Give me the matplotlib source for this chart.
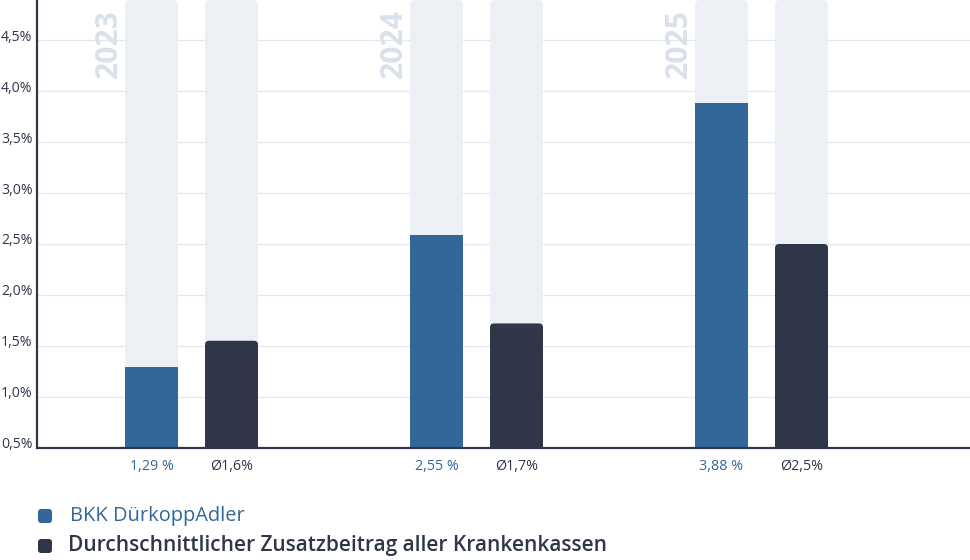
import matplotlib
matplotlib.use("Agg")
import matplotlib.pyplot as plt
from matplotlib.patches import FancyBboxPatch
from matplotlib.transforms import IdentityTransform, blended_transform_factory, offset_copy

# ---- data ----
years = ["2023", "2024", "2025"]
bkk_values = [1.29, 2.59, 3.88]          # bar heights (%)
avg_values = [1.55, 1.72, 2.50]          # bar heights (%)
bkk_labels = ["1,29 %", "2,55 %", "3,88 %"]
avg_labels = ["Ø1,6%", "Ø1,7%", "Ø2,5%"]
yticks = [0.5, 1.0, 1.5, 2.0, 2.5, 3.0, 3.5, 4.0, 4.5]
ytick_labels = ["0,5%", "1,0%", "1,5%", "2,0%", "2,5%", "3,0%", "3,5%", "4,0%", "4,5%"]
legend_labels = ["BKK DürkoppAdler", "Durchschnittlicher Zusatzbeitrag aller Krankenkassen"]

# ---- style ----
BLUE = "#336799"
DARK = "#2e3648"
BG_BAR = "#ecf0f5"
GRID = "#e2e6ee"
YEAR_COL = "#dae1eb"
FONT = ["Open Sans", "DejaVu Sans"]
plt.rcParams["font.family"] = FONT

W, H, DPI = 970, 560, 72
fig = plt.figure(figsize=(W / DPI, H / DPI), dpi=DPI)
ax_left, ax_right, ax_top, ax_bottom = 37, 970, 0, 447.7
ax = fig.add_axes([ax_left / W, (H - ax_bottom) / H, (ax_right - ax_left) / W, (ax_bottom - ax_top) / H])

GROUP_PX = 285.0
PX_PER_PCT = 101.85
ymin = 0.5
ymax = ymin + (ax_bottom - ax_top) / PX_PER_PCT
xmin = (ax_left - 191.5) / GROUP_PX
xmax = (ax_right - 191.5) / GROUP_PX
ax.set_xlim(xmin, xmax)
ax.set_ylim(ymin, ymax)

off = 40 / GROUP_PX
bw = 53 / GROUP_PX
aspect = GROUP_PX / PX_PER_PCT  # y-units per x-unit for equal pixel rounding


def rbar(xc, top, color, radius_px, z):
    bottom = ymin - 0.3
    if radius_px > 0:
        p = FancyBboxPatch((xc - bw / 2, bottom), bw, top - bottom,
                           boxstyle=f"round,pad=0,rounding_size={radius_px / GROUP_PX}",
                           mutation_aspect=aspect, facecolor=color, edgecolor="none",
                           zorder=z, clip_on=True)
        ax.add_patch(p)
    else:
        ax.bar(xc, top - bottom, bottom=bottom, width=bw, color=color, zorder=z, linewidth=0)


trans = blended_transform_factory(ax.transData, ax.transAxes)
for i, yr in enumerate(years):
    xb = i - off
    xd = i + off
    rbar(xb, ymax, BG_BAR, 5, 1)
    rbar(xd, ymax, BG_BAR, 5, 1)
    rbar(xb, bkk_values[i], BLUE, 0, 2)
    rbar(xd, avg_values[i], DARK, 4, 2)
    ax.text(i - 82.5 / GROUP_PX, 1 - 9 / (ax_bottom - ax_top), yr, rotation=90,
            ha="center", va="top", fontsize=30, fontweight="bold", color=YEAR_COL,
            transform=trans, zorder=3)
    ax.annotate(bkk_labels[i], xy=(xb, 0), xycoords=trans, xytext=(0, -18.5),
                textcoords="offset points", ha="center", va="center",
                fontsize=14.2, color=BLUE)
    ax.annotate(avg_labels[i], xy=(xd, 0), xycoords=trans, xytext=(0, -18.5),
                textcoords="offset points", ha="center", va="center",
                fontsize=14.2, color=DARK)

# y tick labels drawn as text, slightly above their gridlines as in the reference
ax.set_yticks(yticks)
ax.set_yticklabels([])
ax.set_xticks([])
ax.tick_params(axis="y", length=0)
ytrans = offset_copy(ax.get_yaxis_transform(), fig=fig, x=-4.5, y=3, units="dots")
for yv, yl in zip(yticks, ytick_labels):
    ax.text(0, yv, yl, transform=ytrans, ha="right", va="center", fontsize=14,
            color=DARK, clip_on=False)
for y in yticks[1:]:
    ax.axhline(y, color=GRID, linewidth=1.2, zorder=0)
for s in ["top", "right"]:
    ax.spines[s].set_visible(False)
for s in ["left", "bottom"]:
    ax.spines[s].set_color(DARK)
    ax.spines[s].set_linewidth(2.2)
    ax.spines[s].set_zorder(4)

# ---- legend ----
legend_colors = [BLUE, DARK]
legend_y = [516, 546]
legend_weights = ["normal", "semibold"]
legend_x = [70, 68]
legend_sizes = [20, 20.9]
for lab, col, ly, wt, lx, fs in zip(legend_labels, legend_colors, legend_y, legend_weights, legend_x, legend_sizes):
    sq = FancyBboxPatch((38, H - ly - 7), 14, 14, boxstyle="round,pad=0,rounding_size=3",
                        facecolor=col, edgecolor="none", transform=IdentityTransform())
    fig.add_artist(sq)
    fig.text(lx / W, (H - ly) / H, lab, ha="left", va="center", fontsize=fs,
             color=col, fontweight=wt)

fig.savefig("out.png", dpi=DPI)
